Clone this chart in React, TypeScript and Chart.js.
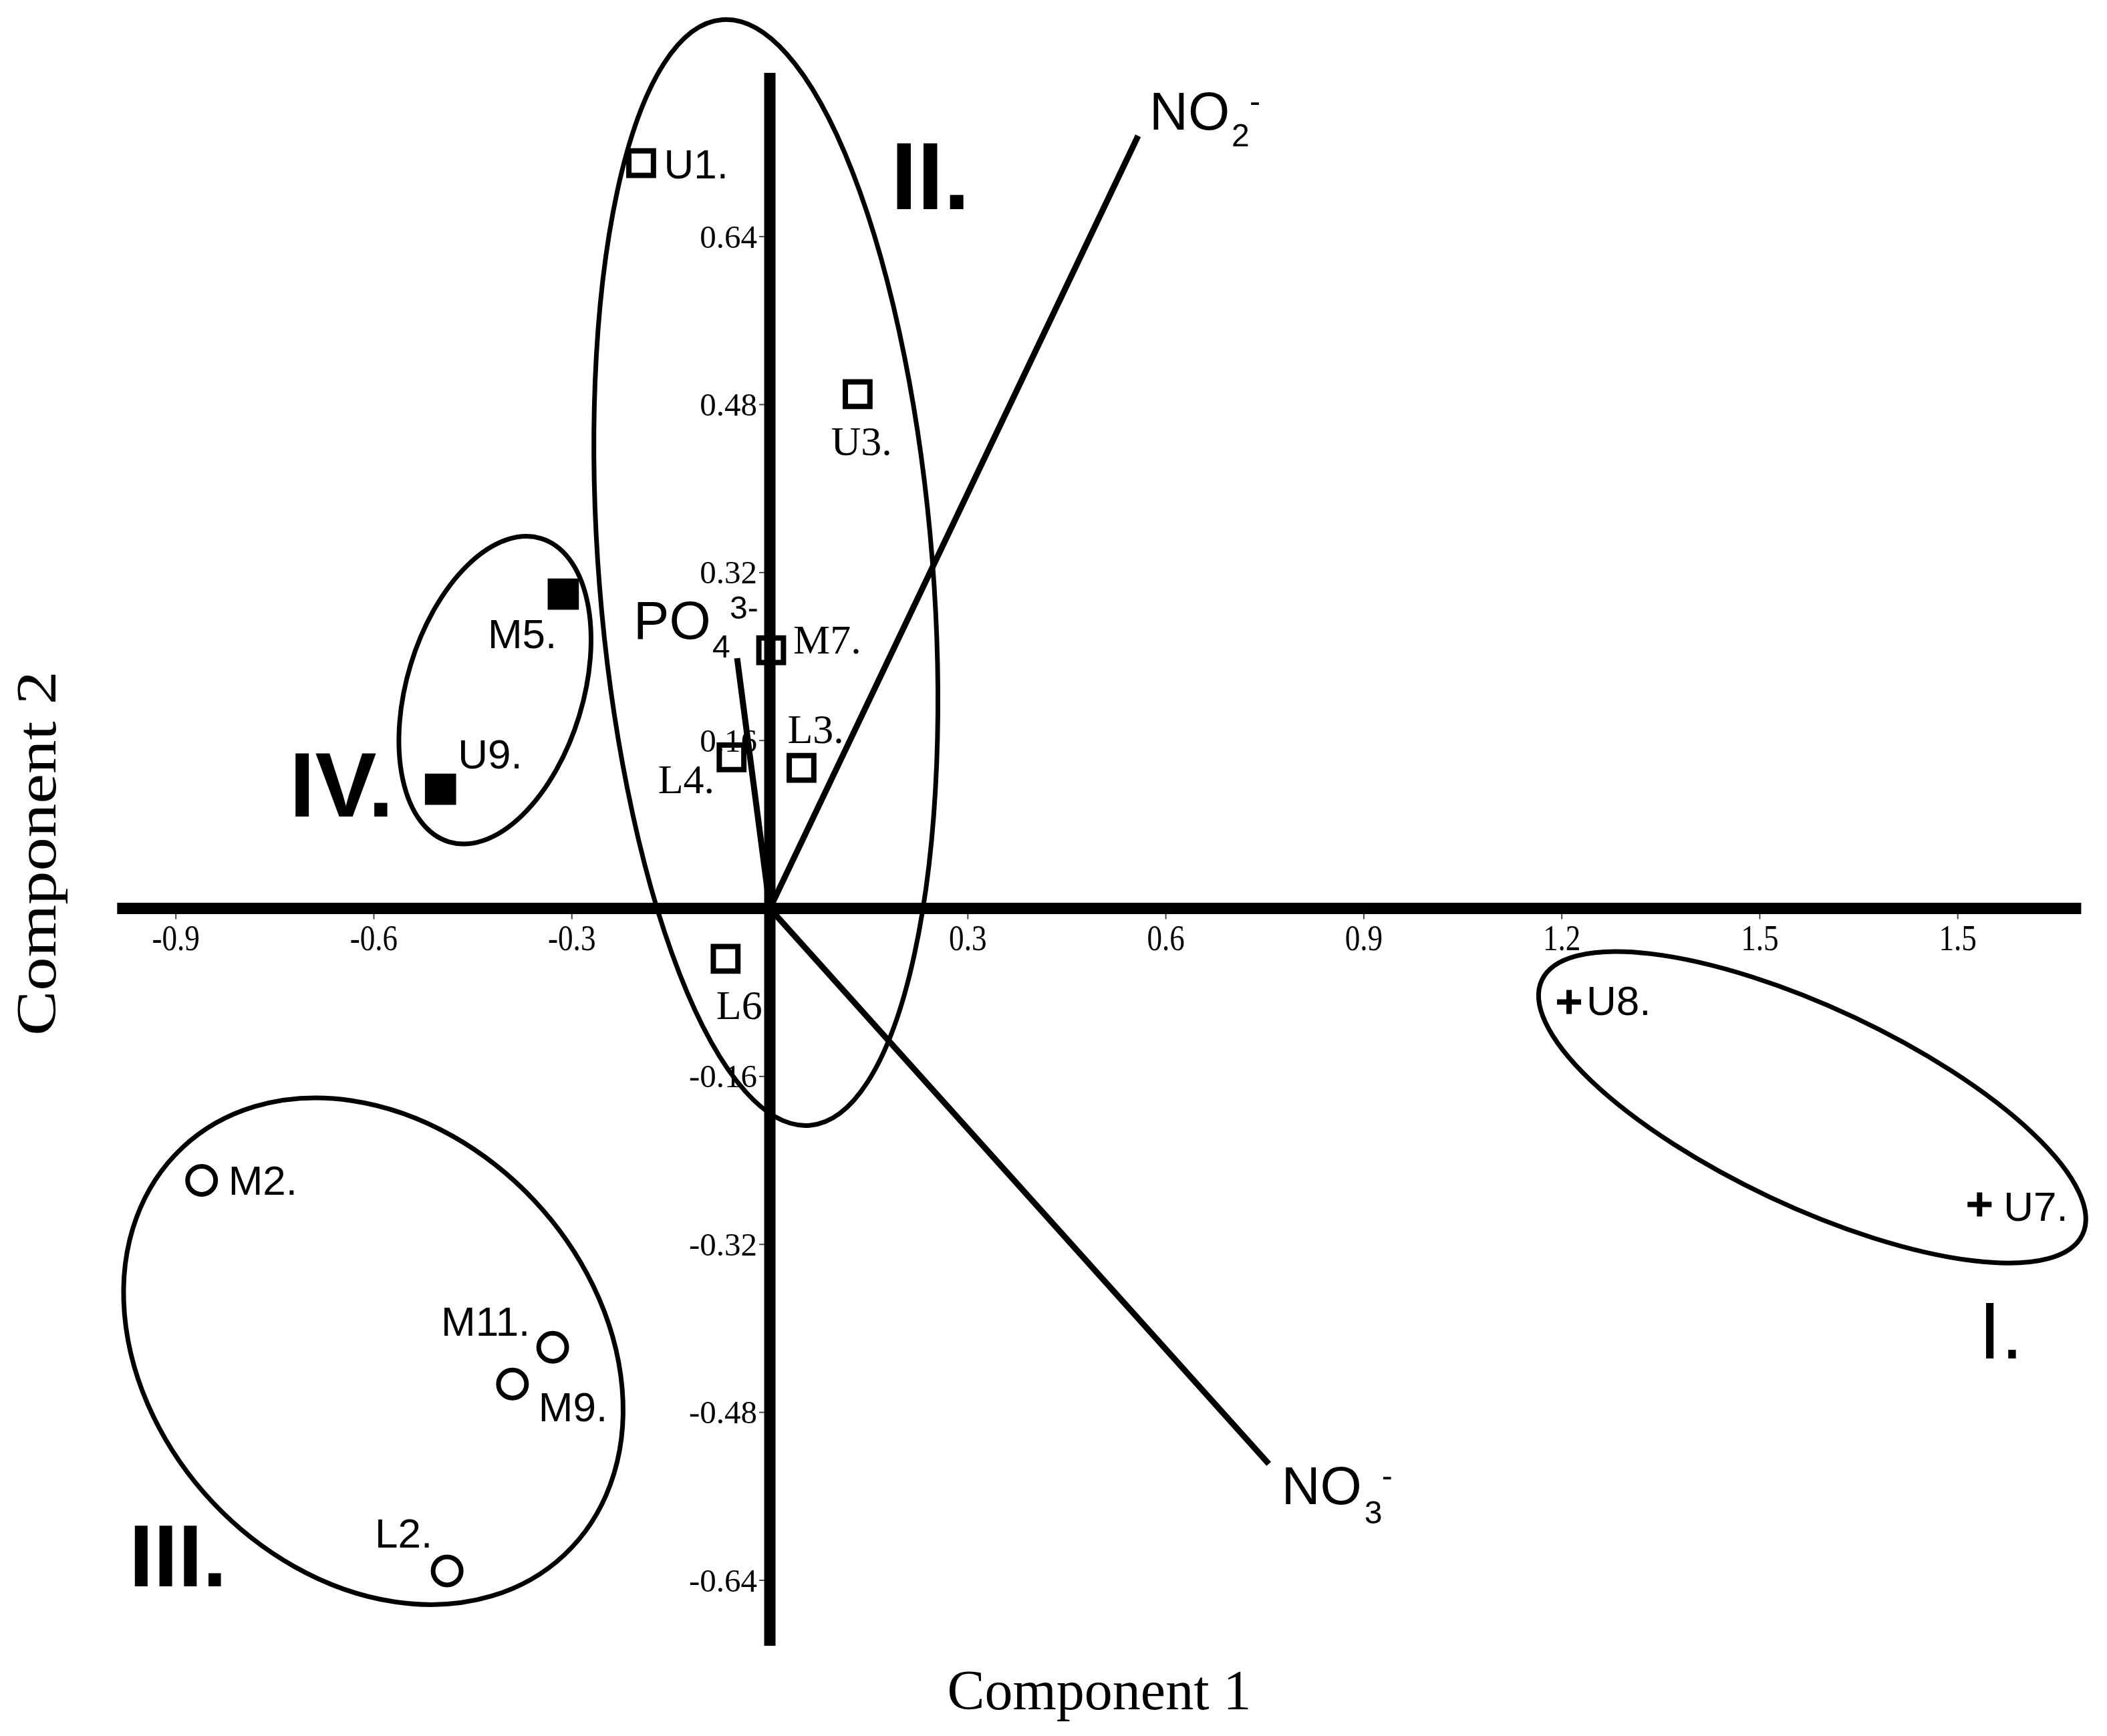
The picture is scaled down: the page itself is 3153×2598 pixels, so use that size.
import React, { useEffect, useRef } from 'react';
import { Chart, registerables } from 'chart.js';

Chart.register(...registerables);

const W = 3153;
const H = 2598;

// ---------------- data ----------------
const groupI = [
  { label: 'U8.', x: 1.211, y: -0.089 },
  { label: 'U7.', x: 1.833, y: -0.282 },
];
const groupII = [
  { label: 'U1.', x: -0.195, y: 0.71 },
  { label: 'U3.', x: 0.133, y: 0.49 },
  { label: 'M7.', x: 0.002, y: 0.246 },
  { label: 'L4.', x: -0.058, y: 0.144 },
  { label: 'L3.', x: 0.048, y: 0.134 },
  { label: 'L6', x: -0.067, y: -0.048 },
];
const groupIII = [
  { label: 'M2.', x: -0.861, y: -0.259 },
  { label: 'M11.', x: -0.329, y: -0.418 },
  { label: 'M9.', x: -0.39, y: -0.453 },
  { label: 'L2.', x: -0.489, y: -0.631 },
];
const groupIV = [
  { label: 'M5.', x: -0.313, y: 0.2995 },
  { label: 'U9.', x: -0.499, y: 0.1136 },
];

const vectorNames = ['NO2-', 'NO3-', 'PO43-'];
const vectorX = [0.558, 0.756, -0.0496];
const vectorY = [0.736, -0.529, 0.2384];

const xTickValues = [-0.9, -0.6, -0.3, 0.3, 0.6, 0.9, 1.2, 1.5, 1.8];
const xTickLabels = ['-0.9', '-0.6', '-0.3', '0.3', '0.6', '0.9', '1.2', '1.5', '1.5'];
const yTickValues = [0.64, 0.48, 0.32, 0.16, -0.16, -0.32, -0.48, -0.64];
const yTickLabels = ['0.64', '0.48', '0.32', '0.16', '-0.16', '-0.32', '-0.48', '-0.64'];

const xTitle = 'Component 1';
const yTitle = 'Component 2';

// ---------------- annotation layout (styles / positions) ----------------
const SANS = '"Liberation Sans", Arial, sans-serif';
const SERIF = '"Liberation Serif", "Times New Roman", serif';

const X_RANGE = [-1.1665, 2.0261];
const Y_RANGE = [-0.7883, 0.8654];
const AXIS_X_EXTENT = [-0.989, 1.987];
const AXIS_Y_EXTENT = [-0.7024, 0.796];

// conjugate semi-diameters in data units
const ELLIPSES = [
  { c: [-0.006, 0.32], u: [0.0662, -0.5266], v: [0.2521, 0.0125] },
  { c: [-0.4165, 0.208], u: [0.0699, 0.1445], v: [0.1277, -0.0244] },
  { c: [-0.6008, -0.4218], u: [0.2896, -0.1938], v: [0.2436, 0.1438] },
  { c: [1.5794, -0.1894], u: [0.4096, -0.1212], v: [0.0641, 0.0856] },
];

const GROUP_NAMES = [
  { text: 'II.', x: 0.1833, y: 0.666, font: `bold 142px ${SANS}`, sx: 1 },
  { text: 'IV.', x: -0.728, y: 0.0875, font: `bold 138px ${SANS}`, sx: 1 },
  { text: 'III.', x: -0.971, y: -0.6457, font: `bold 132px ${SANS}`, sx: 1 },
  { text: 'I.', x: 1.8317, y: -0.4287, font: `120px ${SANS}`, sx: 1 },
];

// label offsets in px from marker centre: [dx, dy(baseline), family]
const LABEL_OFFSETS: Record<string, [number, number, string]> = {
  'U1.': [34, 23, SANS],
  'U3.': [-40, 91, SERIF],
  'M7.': [33, 5, SERIF],
  'L4.': [-110, 54, SERIF],
  'L3.': [-21, -37, SERIF],
  'L6': [-14, 90, SERIF],
  'M5.': [-113, 81, SANS],
  'U9.': [26, -31, SANS],
  'U8.': [26, 20, SANS],
  'U7.': [36, 24, SANS],
  'M2.': [40, 22, SANS],
  'M11.': [-167, -17, SANS],
  'M9.': [39, 56, SANS],
  'L2.': [-108, -35, SANS],
};

// vector label pieces: [text, dx, dy, size]
const VECTOR_LABELS: Record<string, [string, number, number, number][]> = {
  'NO2-': [['NO', 17, -9, 80], ['2', 140, 16, 48], ['-', 167, -35, 48]],
  'NO3-': [['NO', 19, 60, 80], ['3', 143, 89, 48], ['-', 169, 34, 48]],
  'PO43-': [['PO', -155, -29, 80], ['3-', -11, -59, 48], ['4', -37, -1, 48]],
};

function txt(ctx: CanvasRenderingContext2D, s: string, x: number, y: number, font: string, align: CanvasTextAlign = 'left', sx = 1) {
  ctx.save();
  ctx.font = font;
  ctx.textAlign = align;
  ctx.textBaseline = 'alphabetic';
  ctx.fillStyle = '#000';
  ctx.translate(x, y);
  ctx.scale(sx, 1);
  ctx.fillText(s, 0, 0);
  ctx.restore();
}

const overlay = {
  id: 'biplotOverlay',
  beforeDatasetsDraw(chart: any) {
    const ctx: CanvasRenderingContext2D = chart.ctx;
    const xs = chart.scales.x;
    const ys = chart.scales.y;
    ctx.save();
    ctx.strokeStyle = '#000';

    // ellipses
    ELLIPSES.forEach((e) => {
      const cx = xs.getPixelForValue(e.c[0]);
      const cy = ys.getPixelForValue(e.c[1]);
      const ux = xs.getPixelForValue(e.c[0] + e.u[0]) - cx;
      const uy = ys.getPixelForValue(e.c[1] + e.u[1]) - cy;
      const vx = xs.getPixelForValue(e.c[0] + e.v[0]) - cx;
      const vy = ys.getPixelForValue(e.c[1] + e.v[1]) - cy;
      ctx.save();
      ctx.beginPath();
      ctx.transform(ux, uy, vx, vy, cx, cy);
      ctx.arc(0, 0, 1, 0, Math.PI * 2);
      ctx.restore();
      ctx.lineWidth = 7;
      ctx.stroke();
    });

    // axes
    const x0 = xs.getPixelForValue(0);
    const y0 = ys.getPixelForValue(0);
    ctx.lineCap = 'butt';
    ctx.lineWidth = 17;
    ctx.beginPath();
    ctx.moveTo(xs.getPixelForValue(AXIS_X_EXTENT[0]), y0);
    ctx.lineTo(xs.getPixelForValue(AXIS_X_EXTENT[1]), y0);
    ctx.stroke();
    ctx.beginPath();
    ctx.moveTo(x0, ys.getPixelForValue(AXIS_Y_EXTENT[1]));
    ctx.lineTo(x0, ys.getPixelForValue(AXIS_Y_EXTENT[0]));
    ctx.stroke();

    // tick marks
    ctx.lineWidth = 2;
    ctx.strokeStyle = '#444';
    xTickValues.forEach((v) => {
      const px = xs.getPixelForValue(v);
      ctx.beginPath();
      ctx.moveTo(px, y0 + 8);
      ctx.lineTo(px, y0 + 16);
      ctx.stroke();
    });
    yTickValues.forEach((v) => {
      const py = ys.getPixelForValue(v);
      ctx.beginPath();
      ctx.moveTo(x0 - 16, py);
      ctx.lineTo(x0 - 8, py);
      ctx.stroke();
    });

    // tick labels
    xTickValues.forEach((v, i) => {
      txt(ctx, xTickLabels[i], xs.getPixelForValue(v), y0 + 62, `55px ${SERIF}`, 'center', 0.82);
    });
    yTickValues.forEach((v, i) => {
      txt(ctx, yTickLabels[i], x0 - 19, ys.getPixelForValue(v) + 16.5, `49px ${SERIF}`, 'right');
    });
    ctx.restore();
  },
  afterDatasetsDraw(chart: any) {
    const ctx: CanvasRenderingContext2D = chart.ctx;
    const xs = chart.scales.x;
    const ys = chart.scales.y;

    // point labels
    [groupI, groupII, groupIII, groupIV].forEach((g) => {
      g.forEach((p) => {
        const off = LABEL_OFFSETS[p.label];
        if (!off) return;
        const px = xs.getPixelForValue(p.x);
        const py = ys.getPixelForValue(p.y);
        txt(ctx, p.label, px + off[0], py + off[1], `62px ${off[2]}`);
      });
    });

    // vector labels
    vectorNames.forEach((n, i) => {
      const ex = xs.getPixelForValue(vectorX[i]);
      const ey = ys.getPixelForValue(vectorY[i]);
      (VECTOR_LABELS[n] || []).forEach(([t, dx, dy, size]) => {
        txt(ctx, t, ex + dx, ey + dy, `${size}px ${SANS}`);
      });
    });

    // group names
    GROUP_NAMES.forEach((g) => {
      txt(ctx, g.text, xs.getPixelForValue(g.x), ys.getPixelForValue(g.y), g.font, 'left', g.sx);
    });

    // axis titles
    txt(ctx, xTitle, 1645, 2558, `84px ${SERIF}`, 'center');
    ctx.save();
    ctx.translate(83, 1277);
    ctx.rotate(-Math.PI / 2);
    ctx.scale(1.2, 1);
    ctx.font = `84px ${SERIF}`;
    ctx.textAlign = 'center';
    ctx.textBaseline = 'alphabetic';
    ctx.fillStyle = '#000';
    ctx.fillText(yTitle, 0, 0);
    ctx.restore();
  },
};

export default function App() {
  const ref = useRef<HTMLCanvasElement>(null);
  useEffect(() => {
    if (!ref.current) return;
    const vectorDatasets = vectorNames.map((n, i) => ({
      label: n,
      data: [
        { x: 0, y: 0 },
        { x: vectorX[i], y: vectorY[i] },
      ],
      showLine: true,
      borderColor: '#000',
      borderWidth: 9,
      pointRadius: 0,
      borderCapStyle: 'butt' as const,
      fill: false,
    }));
    const chart = new Chart(ref.current, {
      type: 'scatter',
      data: {
        datasets: [
          ...vectorDatasets,
          {
            label: 'I',
            data: groupI.map((p) => ({ x: p.x, y: p.y })),
            pointStyle: 'cross',
            pointRadius: 18,
            borderWidth: 8,
            borderColor: '#000',
            backgroundColor: '#000',
          },
          {
            label: 'II',
            data: groupII.map((p) => ({ x: p.x, y: p.y })),
            pointStyle: 'rect',
            pointRadius: 26,
            borderWidth: 8,
            borderColor: '#000',
            backgroundColor: 'rgba(0,0,0,0)',
          },
          {
            label: 'III',
            data: groupIII.map((p) => ({ x: p.x, y: p.y })),
            pointStyle: 'circle',
            pointRadius: 21,
            borderWidth: 7,
            borderColor: '#000',
            backgroundColor: 'rgba(0,0,0,0)',
          },
          {
            label: 'IV',
            data: groupIV.map((p) => ({ x: p.x, y: p.y })),
            pointStyle: 'rect',
            pointRadius: 33,
            borderWidth: 0,
            borderColor: '#000',
            backgroundColor: '#000',
          },
        ],
      },
      options: {
        responsive: false,
        animation: false,
        devicePixelRatio: 1,
        events: [],
        layout: { padding: 0, autoPadding: false },
        plugins: {
          legend: { display: false },
          tooltip: { enabled: false },
          title: { display: false },
        },
        scales: {
          x: { type: 'linear', min: X_RANGE[0], max: X_RANGE[1], display: false },
          y: { type: 'linear', min: Y_RANGE[0], max: Y_RANGE[1], display: false },
        },
      },
      plugins: [overlay],
    } as any);
    return () => chart.destroy();
  }, []);
  return (
    <div style={{ position: 'absolute', left: 0, top: 0, width: W, height: H, background: '#fff' }}>
      <canvas ref={ref} width={W} height={H} style={{ width: W, height: H, display: 'block' }} />
    </div>
  );
}
